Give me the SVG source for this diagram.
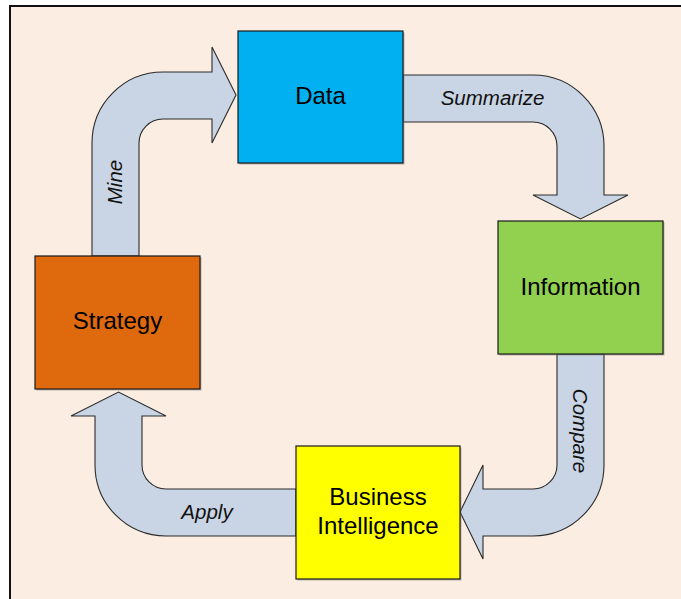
<svg xmlns="http://www.w3.org/2000/svg" width="681" height="599" viewBox="0 0 681 599">
<defs>
<style>
.node{stroke:#1a1a1a;stroke-width:1.2}
.shadow{fill:#7f7f7f;opacity:0.55}
.ntext{font-family:"Liberation Sans",Arial,sans-serif;font-size:24px;fill:#000;text-anchor:middle}
.arrow{fill:#C9D5E4;stroke:#2b2b2b;stroke-width:1.1;stroke-linejoin:miter}
.ltext{font-family:"Liberation Sans",Arial,sans-serif;font-size:20.5px;font-style:italic;fill:#111;text-anchor:middle}
</style>
</defs>
<rect x="10" y="6" width="700" height="620" fill="#FCEDE2" stroke="#111" stroke-width="2"/>
<g id="connectors">
<g id="mine">
<path class="arrow" d="M 92 256 L 92 143 A 71 71 0 0 1 163 72 L 212 72 L 212 47 L 236 95 L 212 143 L 212 119 L 163 119 A 24 24 0 0 0 139 143 L 139 256 Z"/>
<text class="ltext" transform="translate(122,182) rotate(-90)">Mine</text>
</g>
<g id="summarize">
<path class="arrow" d="M 403 75 L 533 75 A 71 71 0 0 1 604 146 L 604 195 L 628 195 L 580.5 219 L 533 195 L 557 195 L 557 146 A 24 24 0 0 0 533 122 L 403 122 Z"/>
<text class="ltext" x="492.5" y="105">Summarize</text>
</g>
<g id="compare">
<path class="arrow" d="M 557 354 L 604 354 L 604 465 A 71 71 0 0 1 533 536 L 483 536 L 483 559 L 460 512 L 483 465 L 483 489 L 533 489 A 24 24 0 0 0 557 465 Z"/>
<text class="ltext" transform="translate(573,431) rotate(90)">Compare</text>
</g>
<g id="apply">
<path class="arrow" d="M 296 489 L 296 536 L 166 536 A 71 71 0 0 1 95 465 L 95 416 L 71 416 L 118.5 392 L 166 416 L 142 416 L 142 465 A 24 24 0 0 0 166 489 Z"/>
<text class="ltext" x="207" y="519">Apply</text>
</g>
</g>
<g id="data">
<rect class="shadow" x="239.5" y="32.5" width="165" height="132"/>
<rect class="node" x="238" y="31" width="165" height="132" fill="#00B0F0"/>
<text class="ntext" x="320.5" y="104">Data</text>
</g>
<g id="information">
<rect class="shadow" x="499.5" y="222.5" width="165" height="133"/>
<rect class="node" x="498" y="221" width="165" height="133" fill="#92D050"/>
<text class="ntext" x="580.5" y="294.5">Information</text>
</g>
<g id="strategy">
<rect class="shadow" x="36.5" y="257.5" width="165" height="133"/>
<rect class="node" x="35" y="256" width="165" height="133" fill="#DF6A0D"/>
<text class="ntext" x="117.5" y="329">Strategy</text>
</g>
<g id="business-intelligence">
<rect class="shadow" x="297.5" y="447.5" width="164" height="133"/>
<rect class="node" x="296" y="446" width="164" height="133" fill="#FFFF00"/>
<text class="ntext" x="378" y="505">Business</text>
<text class="ntext" x="378" y="534">Intelligence</text>
</g>
</svg>
